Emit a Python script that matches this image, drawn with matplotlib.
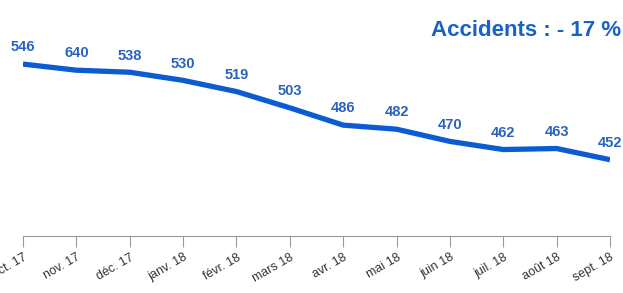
import matplotlib
matplotlib.use("Agg")
import matplotlib.pyplot as plt

months = ["oct. 17", "nov. 17", "déc. 17", "janv. 18", "févr. 18", "mars 18",
          "avr. 18", "mai 18", "juin 18", "juil. 18", "août 18", "sept. 18"]
accidents = [546, 540, 538, 530, 519, 503, 486, 482, 470, 462, 463, 452]
point_labels = ["546", "640", "538", "530", "519", "503",
                "486", "482", "470", "462", "463", "452"]
title_text = "Accidents : - 17 %"

plt.rcParams['font.family'] = ['Liberation Sans', 'DejaVu Sans']

W, H = 623, 293
fig = plt.figure(figsize=(W / 100, H / 100), dpi=100)
left, right = 23 / W, 610 / W
bottom, top = (H - 236) / H, 1.0
ax = fig.add_axes([left, bottom, right - left, top - bottom])

x = list(range(len(months)))
ax.plot(x, accidents, color="#0B5BD3", lw=3.8, solid_capstyle="butt",
        solid_joinstyle="round")
for xi, yi, lab in zip(x, accidents, point_labels):
    ax.annotate(lab, (xi, yi), xytext=(0, 7), textcoords="offset points",
                ha="center", va="bottom", fontsize=10.5, fontweight="bold",
                color="#2A62C0")

ax.set_xlim(0, len(months) - 1)
ax.set_ylim(377, 609)
ax.set_xticks(x)
ax.set_xticklabels(months, rotation=30, ha="right", rotation_mode="anchor",
                   fontsize=9, color="#333333")
ax.tick_params(axis="x", length=8, width=0.8, color="#9a9a9a", pad=3)
ax.set_yticks([])
for s in ["top", "right", "left"]:
    ax.spines[s].set_visible(False)
ax.spines["bottom"].set_color("#9a9a9a")
ax.spines["bottom"].set_linewidth(0.8)
ax.patch.set_alpha(0)

fig.text(621 / W, 1 - 30 / H, title_text, ha="right", va="center",
         fontsize=16, fontweight="bold", color="#1662C9")

fig.savefig("out.png", dpi=100)
